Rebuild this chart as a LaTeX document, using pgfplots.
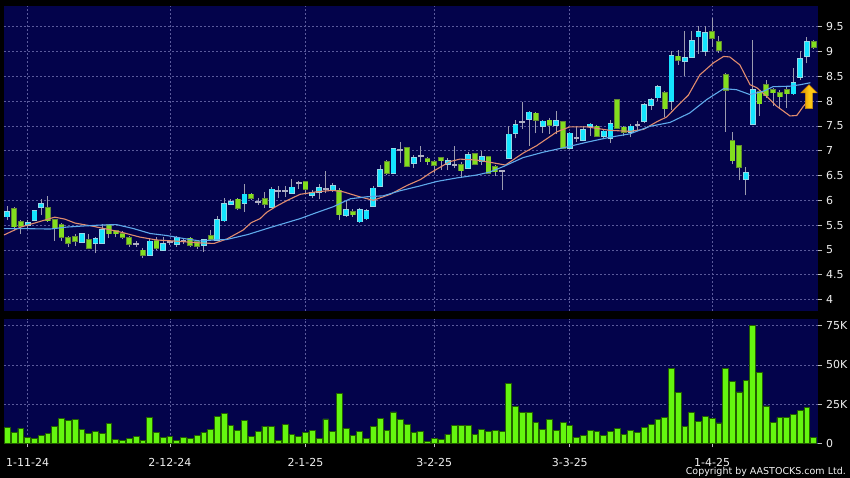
\documentclass[border=0pt]{standalone}
\usepackage{pgfplots}
\pgfplotsset{compat=1.18}
\usepackage{pgfplotstable}
\usepackage{fontspec}
\setmainfont{DejaVu Sans}
\usetikzlibrary{shapes.arrows}

\definecolor{panel}{RGB}{3,3,75}
\definecolor{gridc}{RGB}{90,90,155}
\definecolor{upfill}{RGB}{20,228,255}
\definecolor{upline}{RGB}{150,215,230}
\definecolor{dnfill}{RGB}{130,222,30}
\definecolor{dnline}{RGB}{100,140,50}
\definecolor{dojic}{RGB}{175,175,195}
\definecolor{wickc}{RGB}{155,155,175}
\definecolor{volfill}{RGB}{100,245,15}
\definecolor{volline}{RGB}{35,95,0}
\definecolor{maorange}{RGB}{225,140,110}
\definecolor{mablue}{RGB}{95,170,235}
\definecolor{tickc}{RGB}{190,190,190}
\definecolor{arrowc}{RGB}{255,200,20}
\definecolor{arrowd}{RGB}{215,140,0}

% candles: i open high low close
\pgfplotstableread{
i o h l c
0 5.67 5.88 5.61 5.76
3 5.50 5.60 5.45 5.55
4 5.60 5.81 5.58 5.78
5 5.87 6.02 5.70 5.92
11 5.16 5.35 5.14 5.32
13 5.13 5.25 4.93 5.22
14 5.13 5.52 5.12 5.40
21 4.90 5.21 4.89 5.17
23 4.99 5.25 4.98 5.12
25 5.12 5.28 5.06 5.24
29 5.10 5.22 4.96 5.20
31 5.20 5.68 5.18 5.61
32 5.59 6.04 5.57 5.92
33 5.92 6.02 5.90 5.97
35 5.94 6.33 5.77 6.12
39 5.86 6.27 5.84 6.22
42 6.15 6.42 6.14 6.26
45 6.10 6.20 6.04 6.16
46 6.17 6.32 6.02 6.25
48 6.20 6.34 6.17 6.29
50 5.70 6.00 5.67 5.80
52 5.57 5.84 5.55 5.80
53 5.63 5.82 5.61 5.79
54 5.88 6.28 5.86 6.24
55 6.28 6.71 6.26 6.61
57 6.55 7.04 6.53 7.03
60 6.75 6.91 6.65 6.85
65 6.73 6.85 6.61 6.80
68 6.65 6.98 6.63 6.91
70 6.78 7.00 6.71 6.87
74 6.85 7.50 6.83 7.33
75 7.36 7.62 7.25 7.52
77 7.63 7.79 7.10 7.77
79 7.50 7.62 7.35 7.59
81 7.52 7.80 7.34 7.60
83 7.06 7.38 7.04 7.35
85 7.22 7.49 7.19 7.42
86 7.49 7.55 7.30 7.53
88 7.30 7.42 7.25 7.39
89 7.25 7.61 7.15 7.54
92 7.37 7.54 7.27 7.49
94 7.59 7.96 7.55 7.92
95 7.92 8.07 7.83 8.02
96 8.07 8.33 8.00 8.29
98 8.00 9.00 7.83 8.91
100 8.80 9.42 8.50 8.87
101 8.89 9.42 8.87 9.22
102 9.30 9.51 8.95 9.40
103 9.00 9.51 8.91 9.37
109 6.43 6.67 6.10 6.55
110 7.53 9.23 7.51 8.22
116 8.15 8.67 8.13 8.37
117 8.49 9.00 8.43 8.85
118 8.91 9.29 8.76 9.20
}\upc

\pgfplotstableread{
i o h l c
1 5.82 5.86 5.40 5.47
2 5.57 5.60 5.32 5.48
6 5.84 6.08 5.57 5.59
7 5.60 5.62 5.18 5.45
8 5.51 5.55 5.18 5.26
9 5.24 5.28 5.06 5.14
10 5.26 5.33 5.08 5.18
12 5.20 5.33 5.01 5.04
15 5.50 5.52 5.23 5.33
16 5.38 5.40 5.25 5.33
17 5.33 5.38 5.21 5.25
18 5.24 5.28 5.06 5.11
20 4.99 5.03 4.83 4.89
22 5.18 5.26 4.99 5.04
27 5.23 5.26 5.05 5.10
28 5.16 5.20 5.02 5.08
30 5.29 5.41 5.18 5.21
34 6.02 6.04 5.80 5.84
36 6.12 6.15 6.00 6.05
38 6.02 6.17 5.84 5.92
44 6.37 6.39 6.14 6.22
49 6.20 6.24 5.60 5.71
51 5.77 5.82 5.67 5.71
56 6.78 6.81 6.51 6.55
59 7.05 7.07 6.68 6.69
62 6.83 6.88 6.71 6.78
63 6.78 6.81 6.55 6.71
64 6.85 6.88 6.61 6.80
67 6.71 6.78 6.45 6.60
69 6.93 6.95 6.71 6.73
71 6.88 6.89 6.53 6.55
72 6.68 6.71 6.49 6.58
78 7.75 7.77 7.35 7.61
80 7.61 7.65 7.34 7.52
82 7.58 7.60 7.03 7.05
87 7.49 7.52 7.29 7.30
90 8.02 8.04 7.43 7.45
91 7.47 7.50 7.29 7.37
97 8.17 8.20 7.67 7.85
99 8.90 9.03 8.73 8.82
104 9.40 9.67 9.09 9.27
105 9.20 9.31 8.97 9.03
106 8.53 8.57 7.38 8.22
107 7.20 7.38 6.73 6.80
108 7.09 7.11 6.40 6.67
111 8.18 8.23 7.70 7.95
112 8.33 8.43 8.07 8.11
113 8.22 8.27 7.90 8.17
114 8.17 8.23 7.85 8.09
115 8.22 8.30 7.87 8.15
119 9.20 9.23 9.05 9.09
}\dnc

\pgfplotstableread{
i o h l c
19 5.12 5.18 5.05 5.12
24 5.15 5.20 5.10 5.15
26 5.18 5.22 5.12 5.18
37 5.97 6.04 5.90 5.97
40 6.19 6.28 6.04 6.19
41 6.19 6.28 6.07 6.19
43 6.34 6.39 6.22 6.34
47 6.22 6.59 6.14 6.22
58 7.01 7.18 6.75 7.01
61 6.89 7.10 6.78 6.89
66 6.71 7.10 6.65 6.71
73 6.59 6.62 6.21 6.59
76 7.57 7.99 7.43 7.57
84 7.25 7.50 7.18 7.25
93 7.51 7.59 7.39 7.51
}\dojic

% moving averages
\pgfplotstableread{
i m
-0.5 5.30
2 5.46
4 5.54
5.5 5.60
7 5.66
8.5 5.62
10 5.54
12.5 5.48
15 5.41
17 5.35
19.5 5.26
22 5.20
24.5 5.18
26.5 5.16
28.5 5.14
30.5 5.13
32.4 5.22
34.8 5.40
36 5.55
37.3 5.63
38.3 5.76
39.7 5.88
41.5 6.01
43.2 6.12
45.6 6.17
48 6.20
49.6 6.17
52 6.07
54 6.00
56.5 6.12
59 6.30
61 6.42
62.4 6.55
65.3 6.78
66.8 6.83
69.3 6.81
71.5 6.76
73.5 6.71
76.1 6.95
78.1 7.10
81.1 7.38
83 7.48
85.5 7.48
88.9 7.41
91.9 7.39
93.9 7.43
95.8 7.58
97.3 7.68
98.8 7.89
100.5 8.12
102.2 8.53
104.2 8.77
105.7 8.90
106.6 8.89
108.1 8.73
109.6 8.33
110.6 8.27
112.1 8.09
113.5 7.90
115.5 7.70
116.5 7.71
117.5 7.90
118.5 8.05
}\maA

\pgfplotstableread{
i m
-0.5 5.43
2 5.43
6.3 5.42
8.8 5.46
11 5.48
13.7 5.50
16.1 5.51
18.6 5.43
21.1 5.33
23.5 5.29
26 5.23
28.4 5.18
30.5 5.20
32.4 5.21
35.5 5.31
38.3 5.43
40.5 5.52
43.2 5.63
45.6 5.75
48.1 5.87
50.6 6.03
53 6.07
55.5 6.09
57.9 6.19
60.9 6.29
63.4 6.38
66.3 6.45
69.3 6.51
71.2 6.57
73.2 6.68
76.1 6.86
79.1 6.97
82.1 7.06
85.5 7.17
88.9 7.27
91.9 7.34
94.8 7.49
97.8 7.57
100.7 7.76
103.2 8.03
105.7 8.25
107.6 8.23
109.6 8.13
111.6 8.20
113 8.29
115.5 8.30
117 8.33
118.5 8.37
}\maB

% volume (thousands)
\pgfplotstableread{
i v
0 10.3
1 6.8
2 9.8
3 3.6
4 3.2
5 5.1
6 6.4
7 10.7
8 16.0
9 14.5
10 15.4
11 9.0
12 6.4
13 7.7
14 6.6
15 12.6
16 2.8
17 1.9
18 3.2
19 4.5
20 2.1
21 16.5
22 6.8
23 3.8
24 4.5
25 2.1
26 3.8
27 3.4
28 4.9
29 7.1
30 9.0
31 17.3
32 19.2
33 11.5
34 8.1
35 14.7
36 4.7
37 7.5
38 11.1
39 11.1
40 1.9
41 12.4
42 5.6
43 4.3
44 7.3
45 8.5
46 3.2
47 15.6
48 7.5
49 32.1
50 9.8
51 4.9
52 7.9
53 3.4
54 10.7
55 16.2
56 8.5
57 20.1
58 15.4
59 12.4
60 6.8
61 7.5
62 1.1
63 3.2
64 2.5
65 5.9
66 11.2
67 11.2
68 11.4
69 5.9
70 8.9
71 7.8
72 8.3
73 7.8
74 38.1
75 23.7
76 19.5
77 19.9
78 13.6
79 9.1
80 15.3
81 8.1
82 13.3
83 11.4
84 4.0
85 5.3
86 8.1
87 7.6
88 5.1
89 7.6
90 9.5
91 5.9
92 8.5
93 7.0
94 10.0
95 12.3
96 15.5
97 16.5
98 47.5
99 32.6
100 10.6
101 19.7
102 14.2
103 17.4
104 15.7
105 13.1
106 47.5
107 39.4
108 32.8
109 40.3
110 75.0
111 45.3
112 23.9
113 13.6
114 16.5
115 16.3
116 18.6
117 21.2
118 22.9
119 3.8
}\vol

\pgfplotsset{
  panel/.style={
    scale only axis, anchor=south west, width=814pt,
    xmin=-0.49, xmax=119.63,
    axis background/.style={fill=panel},
    axis line style={draw=none},
    ytick pos=right, yticklabel pos=right,
    tick align=outside, major tick length=4pt,
    tick style={draw=tickc, line width=0.6pt},
    grid=major,
    major grid style={draw=gridc, dash pattern=on 2pt off 2pt, line width=0.6pt},
    xtick={3,24,44,63,83,104},
    yticklabel style={font=\fontsize{11}{13}\selectfont, text=white!88!gray,
      anchor=west, inner sep=0pt, xshift=4pt},
    scaled y ticks=false,
  },
  wick/.style={draw=none, forget plot,
    error bars/.cd, y dir=plus, y explicit, error mark=none,
    error bar style={draw=wickc, line width=1pt}},
  body/.style 2 args={draw=none, forget plot,
    error bars/.cd, y dir=both, y explicit, error mark=none,
    error bar style={draw=#1, line width=#2}},
}

\begin{document}
\begin{tikzpicture}
\useasboundingbox (0,0) rectangle (850pt,478pt);
\fill[black] (0,0) rectangle (850pt,478pt);

% price panel
\begin{axis}[panel, at={(4pt,167pt)}, height=305pt,
  ymin=3.768, ymax=9.917,
  ytick={4,4.5,5,5.5,6,6.5,7,7.5,8,8.5,9,9.5},
  yticklabels={4,4.5,5,5.5,6,6.5,7,7.5,8,8.5,9,9.5},
  xticklabels={}, x tick style={draw=none}]

  \addplot[wick] table[x=i, y=l, y error expr=\thisrow{h}-\thisrow{l}] {\upc};
  \addplot[wick] table[x=i, y=l, y error expr=\thisrow{h}-\thisrow{l}] {\dnc};
  \addplot[wick] table[x=i, y=l, y error expr=\thisrow{h}-\thisrow{l}] {\dojic};

  \addplot[body={upline}{5.8pt}] table[x=i, y expr=(\thisrow{o}+\thisrow{c})/2,
    y error expr=abs(\thisrow{c}-\thisrow{o})/2+0.016] {\upc};
  \addplot[body={upfill}{4.2pt}] table[x=i, y expr=(\thisrow{o}+\thisrow{c})/2,
    y error expr=abs(\thisrow{c}-\thisrow{o})/2] {\upc};
  \addplot[body={dnline}{5.8pt}] table[x=i, y expr=(\thisrow{o}+\thisrow{c})/2,
    y error expr=abs(\thisrow{c}-\thisrow{o})/2+0.016] {\dnc};
  \addplot[body={dnfill}{4.2pt}] table[x=i, y expr=(\thisrow{o}+\thisrow{c})/2,
    y error expr=abs(\thisrow{c}-\thisrow{o})/2] {\dnc};
  \addplot[body={dojic}{5.8pt}] table[x=i, y expr=(\thisrow{o}+\thisrow{c})/2,
    y error expr=0.02] {\dojic};

  \addplot[maorange, line width=1.1pt] table[x=i, y=m] {\maA};
  \addplot[mablue, line width=1.1pt] table[x=i, y=m] {\maB};

  \node[single arrow, shape border rotate=90, left color=arrowd, right color=arrowc,
    middle color=arrowc, draw=arrowd, line width=0.4pt, inner sep=3.5pt,
    minimum height=24pt, single arrow head extend=4.5pt]
    at (axis cs:118.3,8.05) {};
\end{axis}

% volume panel
\begin{axis}[panel, at={(4pt,34.5pt)}, height=124.5pt,
  ymin=0, ymax=79.2,
  ytick={0,25,50,75}, yticklabels={0,25K,50K,75K},
  xtick pos=bottom, major tick length=4pt,
  xticklabels={1-11-24,2-12-24,2-1-25,3-2-25,3-3-25,1-4-25},
  xticklabel style={font=\fontsize{11}{13}\selectfont, text=white!88!gray,
    anchor=base, inner sep=0pt, yshift=-19pt}]
  \addplot[ybar, bar width=5.8pt, fill=volfill, draw=volline, line width=0.8pt]
    table[x=i, y=v] {\vol};
\end{axis}

\node[anchor=base east, text=white!92!gray, inner sep=0pt,
  font=\fontsize{9.5}{11}\selectfont] at (846pt,3pt) {Copyright by AASTOCKS.com Ltd.};
\end{tikzpicture}
\end{document}
